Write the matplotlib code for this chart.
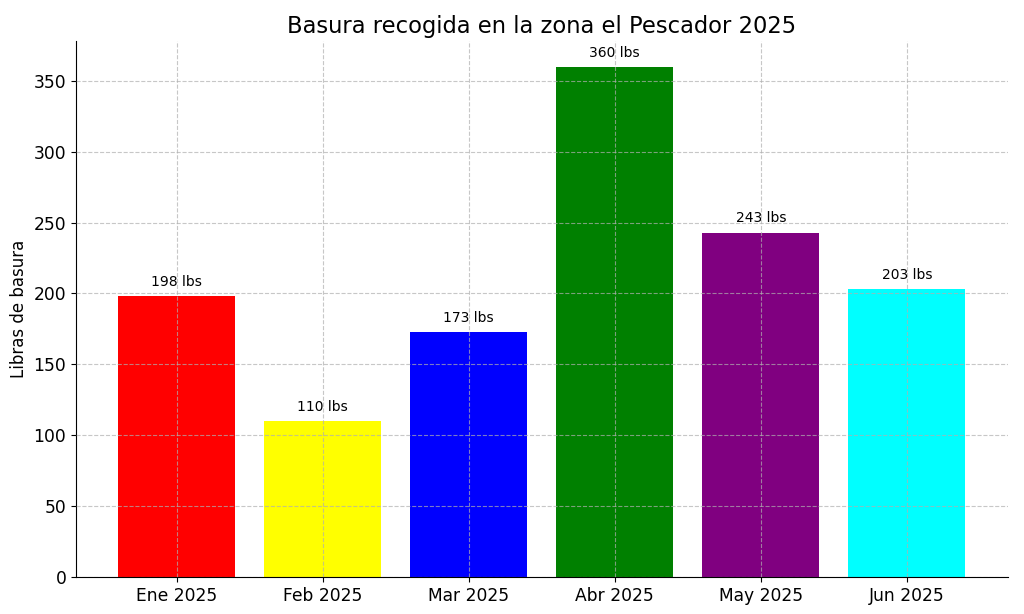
import matplotlib
matplotlib.use("Agg")
import matplotlib.pyplot as plt

months = ["Ene 2025", "Feb 2025", "Mar 2025", "Abr 2025", "May 2025", "Jun 2025"]
values = [198, 110, 173, 360, 243, 203]
colors = ["red", "yellow", "blue", "green", "purple", "cyan"]

fig = plt.figure(figsize=(10.24, 6.14), dpi=100)
ax = fig.add_axes([0.0742, 0.0603, 0.9098, 0.8727])
bars = ax.bar(months, values, color=colors, width=0.8)
for b, v in zip(bars, values):
    ax.text(b.get_x() + b.get_width() / 2, v + 5, f"{v} lbs", ha="center", va="bottom", fontsize=10)
ax.set_title("Basura recogida en la zona el Pescador 2025", fontsize=16.3)
ax.set_ylabel("Libras de basura", fontsize=12)
ax.tick_params(labelsize=12.3)
ax.set_ylim(0, 378)
ax.grid(True, linestyle="--", alpha=0.7)
ax.set_axisbelow(False)
ax.spines["top"].set_visible(False)
ax.spines["right"].set_visible(False)
fig.savefig("out.png", dpi=100)
